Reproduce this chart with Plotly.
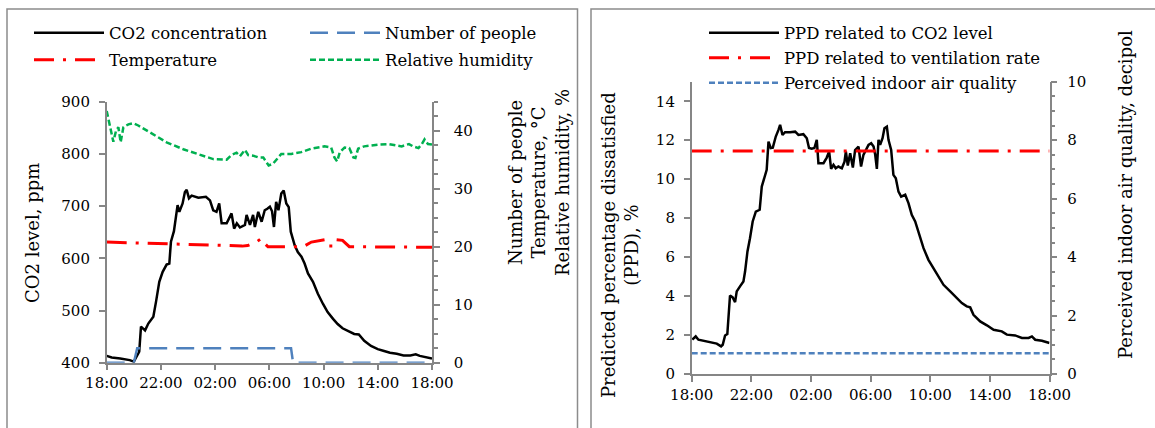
import plotly.graph_objects as go

# ---------------- data (hours after 18:00) ----------------
time_ticks = [0, 4, 8, 12, 16, 20, 24]
time_labels = ["18:00", "22:00", "02:00", "06:00", "10:00", "14:00", "18:00"]

co2_t = [0, 0.37, 1.0, 1.7, 2.0, 2.26, 2.4, 2.53, 2.83, 3.07, 3.44, 3.64, 3.88, 4.13, 4.42,
         4.62, 4.74, 4.96, 5.1, 5.23, 5.36, 5.6, 5.77, 5.9, 6.07, 6.27, 6.76, 7.32, 7.62,
         7.86, 8.1, 8.3, 8.48, 8.85, 9.21, 9.4, 9.6, 9.83, 10.2, 10.32, 10.57, 10.8, 10.93,
         11.18, 11.43, 11.66, 11.85, 12.04, 12.2, 12.34, 12.5, 12.67, 12.88, 13.06, 13.25,
         13.43, 13.58, 13.87, 14.1, 14.37, 14.6, 14.85, 15.22, 15.58, 15.95, 16.3, 16.7,
         17.04, 17.4, 17.9, 18.26, 18.6, 19.0, 19.5, 20.0, 20.4, 20.9, 21.4, 21.9, 22.4,
         22.8, 23.1, 23.6, 24]
co2_ppm = [413, 410, 408, 405, 402, 416, 421, 469, 462, 475, 488, 517, 555, 574, 588,
           590, 632, 652, 676, 702, 689, 705, 727, 731, 715, 720, 716, 718, 711,
           692, 689, 705, 667, 667, 686, 657, 667, 659, 664, 683, 664, 683, 660,
           689, 670, 692, 695, 699, 690, 660, 708, 692, 724, 730, 705,
           698, 651, 625, 612, 603, 590, 571, 555, 532, 513, 497, 484,
           474, 466, 460, 455, 454, 442, 432, 426, 423, 419, 417, 414, 414,
           416, 413, 411, 408]

people_t = [0, 2.0, 2.25, 13.6, 13.75, 24]
people_n = [0, 0, 2.5, 2.5, 0, 0]

temp_t = [0, 1.4, 1.5, 3.0, 4.5, 6.0, 7.5, 9.0, 10.0, 10.4, 10.8, 11.1, 11.4, 11.55, 11.9,
          13.0, 14.5, 15.1, 16.1, 16.3, 16.8, 16.95, 17.4, 17.9, 19.5, 21.0, 22.5, 24]
temp_c = [20.8, 20.8, 20.7, 20.6, 20.5, 20.5, 20.3, 20.2, 20.1, 20.2, 20.6, 20.9, 21.4, 20.8,
          20.0, 20.0, 20.0, 20.8, 21.2, 20.1, 20.1, 21.2, 21.1, 20.0, 20.0, 19.9, 19.9, 19.9]

rh_t = [0, 0.49, 0.69, 0.86, 1.03, 1.23, 1.6, 1.97, 2.33, 3.19, 4.42, 5.65, 6.88, 7.86, 8.85,
        9.21, 9.58, 9.83, 10.2, 10.44, 10.8, 11.18, 11.55, 11.95, 12.27, 12.59, 12.88, 13.62,
        14.35, 15.09, 16.07, 16.56, 16.8, 17.0, 17.2, 17.55, 17.9, 18.2, 18.35, 18.55, 19.0,
        20.04, 20.8, 21.76, 22.3, 22.6, 23.0, 23.25, 23.45, 23.7, 24]
rh_pct = [43.4, 38.1, 40.0, 40.6, 38.0, 40.6, 41.1, 41.3, 40.9, 39.7, 38.0, 36.8, 35.8, 35.1,
          35.0, 35.8, 36.2, 35.6, 36.7, 35.8, 35.7, 35.4, 35.4, 34.0, 34.3, 35.1, 36.0, 36.0,
          36.3, 36.9, 37.3, 37.1, 35.4, 34.7, 36.3, 37.1, 37.0, 35.4, 35.3, 36.9, 37.3,
          37.6, 37.7, 37.3, 37.7, 37.3, 37.0, 37.7, 38.5, 37.7, 37.6]

ppd_t = [0.04, 0.27, 0.45, 0.9, 1.34, 1.68, 1.97, 2.08, 2.24, 2.39, 2.57, 2.75, 2.91, 3.02,
         3.24, 3.47, 3.58, 3.74, 3.91, 4.09, 4.3, 4.43, 4.56, 4.7, 4.88, 5.03, 5.15, 5.3,
         5.44, 5.64, 5.82, 5.93, 6.09, 6.26, 6.6, 6.94, 7.16, 7.49, 7.72, 7.87, 8.05, 8.23,
         8.39, 8.5, 8.84, 9.06, 9.22, 9.35, 9.51, 9.66, 9.84, 10.07, 10.25, 10.34, 10.47,
         10.63, 10.81, 10.96, 11.19, 11.36, 11.52, 11.74, 11.86, 12.04, 12.2, 12.31, 12.42,
         12.53, 12.64, 12.8, 12.93, 13.09, 13.2, 13.38, 13.53, 13.69, 13.87, 14.05, 14.32,
         14.54, 14.76, 14.99, 15.21, 15.55, 15.88, 16.22, 16.55, 16.89, 17.34, 17.67, 18.12,
         18.45, 18.68, 18.9, 19.35, 19.8, 20.25, 20.8, 21.14, 21.7, 22.15, 22.6, 22.82, 23.04,
         23.49, 24]
ppd_co2 = [1.76, 1.93, 1.76, 1.68, 1.62, 1.56, 1.42, 1.5, 1.98, 2.05, 4.03, 3.93, 3.69, 4.24,
           4.5, 4.75, 5.26, 6.29, 6.97, 7.83, 8.34, 8.38, 8.43, 9.62, 10.05, 10.48, 11.93, 11.6,
           11.62, 12.19, 12.53, 12.79, 12.27, 12.41, 12.41, 12.44, 12.27, 12.31, 12.1, 11.6,
           11.56, 11.6, 12.02, 10.82, 10.82, 11.11, 11.42, 10.53, 10.74, 10.56, 10.65, 10.56,
           10.9, 11.42, 10.7, 11.33, 10.6, 11.5, 11.67, 10.65, 11.25, 11.6, 11.76, 11.85, 11.68,
           11.25, 10.53, 12.02, 11.76, 12.1, 12.62, 12.7, 12.02, 11.5, 10.22, 10.05, 9.36, 9.11,
           9.2, 8.77, 8.17, 7.83, 7.32, 6.46, 5.86, 5.44, 5.01, 4.58, 4.24, 3.98, 3.64, 3.47,
           3.42, 3.04, 2.7, 2.5, 2.27, 2.19, 2.02, 1.98, 1.85, 1.85, 1.93, 1.76, 1.71, 1.59]

vent_t = [0, 24]
ppd_vent = [11.45, 11.45]

iaq_t = [0, 24]
iaq_decipol = [0.71, 0.71]

# ---------------- styling ----------------
W, H = 1155, 428
def px(x): return x / W
def py(y): return 1 - y / H

FONT = "DejaVu Serif"
GRAY = "#868686"
RED = "#FF0000"
GREEN = "#00B050"
BLUE = "#4F81BD"
DASHDOT = "20px,9px,3px,9px"

fig = go.Figure()

fig.add_trace(go.Scatter(x=co2_t, y=co2_ppm, mode="lines", name="CO2 concentration",
                         line=dict(color="black", width=2.5), xaxis="x", yaxis="y",
                         legend="legend"))
fig.add_trace(go.Scatter(x=people_t, y=people_n, mode="lines", name="Number of people",
                         line=dict(color=BLUE, width=2.5, dash="18px,9px"),
                         xaxis="x", yaxis="y2", legend="legend2"))
fig.add_trace(go.Scatter(x=temp_t, y=temp_c, mode="lines", name="Temperature",
                         line=dict(color=RED, width=3, dash=DASHDOT),
                         xaxis="x", yaxis="y2", legend="legend3"))
fig.add_trace(go.Scatter(x=rh_t, y=rh_pct, mode="lines", name="Relative humidity",
                         line=dict(color=GREEN, width=2.5, dash="6px,3px"),
                         xaxis="x", yaxis="y2", legend="legend4"))

fig.add_trace(go.Scatter(x=ppd_t, y=ppd_co2, mode="lines", name="PPD related to CO2 level",
                         line=dict(color="black", width=2.5), xaxis="x2", yaxis="y3",
                         legend="legend5"))
fig.add_trace(go.Scatter(x=vent_t, y=ppd_vent, mode="lines",
                         name="PPD related to ventilation rate",
                         line=dict(color=RED, width=3, dash=DASHDOT),
                         xaxis="x2", yaxis="y3", legend="legend6"))
fig.add_trace(go.Scatter(x=iaq_t, y=iaq_decipol, mode="lines",
                         name="Perceived indoor air quality",
                         line=dict(color=BLUE, width=2.5, dash="6px,3px"),
                         xaxis="x2", yaxis="y4", legend="legend7"))

def axis_style(standoff=0):
    return dict(showgrid=False, zeroline=False, showline=True, linecolor=GRAY,
                linewidth=1.5, ticks="outside", tickcolor=GRAY, tickwidth=1.5,
                ticklen=6, ticklabelstandoff=standoff, automargin=False,
                tickfont=dict(family=FONT, size=15, color="black"))

x_common = dict(range=[0, 24], tickmode="array", tickvals=time_ticks, ticktext=time_labels,
                **axis_style(0))

def legend_at(x, y):
    return dict(x=px(x), y=py(y), xanchor="left", yanchor="middle",
                bgcolor="rgba(0,0,0,0)", borderwidth=0, itemwidth=70,
                font=dict(family=FONT, size=16.5, color="black"))

fig.update_layout(
    width=W, height=H, margin=dict(l=0, r=0, t=0, b=0, autoexpand=False),
    paper_bgcolor="white", plot_bgcolor="rgba(0,0,0,0)",
    xaxis=dict(domain=[px(106.7), px(432)], anchor="y", **x_common),
    yaxis=dict(domain=[py(362.7), py(101.7)], range=[400, 900], dtick=100, anchor="x",
               **axis_style(6)),
    yaxis2=dict(overlaying="y", side="right", anchor="x", range=[0, 45], tick0=0, dtick=10,
                minor=dict(ticks="outside", ticklen=4, dtick=2.5, tick0=0, tickcolor=GRAY,
                           tickwidth=1.5),
                **axis_style(11)),
    xaxis2=dict(domain=[px(691.7), px(1049.5)], anchor="y3", **x_common),
    yaxis3=dict(domain=[py(374), py(81.8)], range=[0, 15], tick0=0, dtick=2, anchor="x2",
                **axis_style(6)),
    yaxis4=dict(overlaying="y3", side="right", anchor="x2", range=[0, 10], tick0=0, dtick=2,
                minor=dict(ticks="outside", ticklen=4, dtick=0.5, tick0=0, tickcolor=GRAY,
                           tickwidth=1.5),
                **axis_style(7)),
    legend=legend_at(29, 33),
    legend2=legend_at(305, 33),
    legend3=legend_at(29, 60),
    legend4=legend_at(305, 60),
    legend5=legend_at(704, 33),
    legend6=legend_at(704, 58),
    legend7=legend_at(704, 83),
    showlegend=True,
)

# panel borders
for x0, x1 in [(7, 577.5), (591, 1160)]:
    fig.add_shape(type="rect", xref="paper", yref="paper", x0=px(x0), x1=px(x1),
                  y0=-0.05, y1=py(9), line=dict(color="#8c8c8c", width=1.5),
                  fillcolor="rgba(0,0,0,0)", layer="below")

# axis titles
titles = [
    ("CO2 level, ppm", 32, 233),
    ("Number of people<br>Temperature, °C<br>Relative humidity, %", 539, 183),
    ("Predicted percentage dissatisfied<br>(PPD), %", 620, 245),
    ("Perceived indoor air quality, decipol", 1125, 195),
]
for txt, x, y in titles:
    fig.add_annotation(text=txt, x=px(x), y=py(y), xref="paper", yref="paper",
                       xanchor="center", yanchor="middle", textangle=-90, showarrow=False,
                       font=dict(family=FONT, size=18, color="black"))

fig.write_html("out.html")
